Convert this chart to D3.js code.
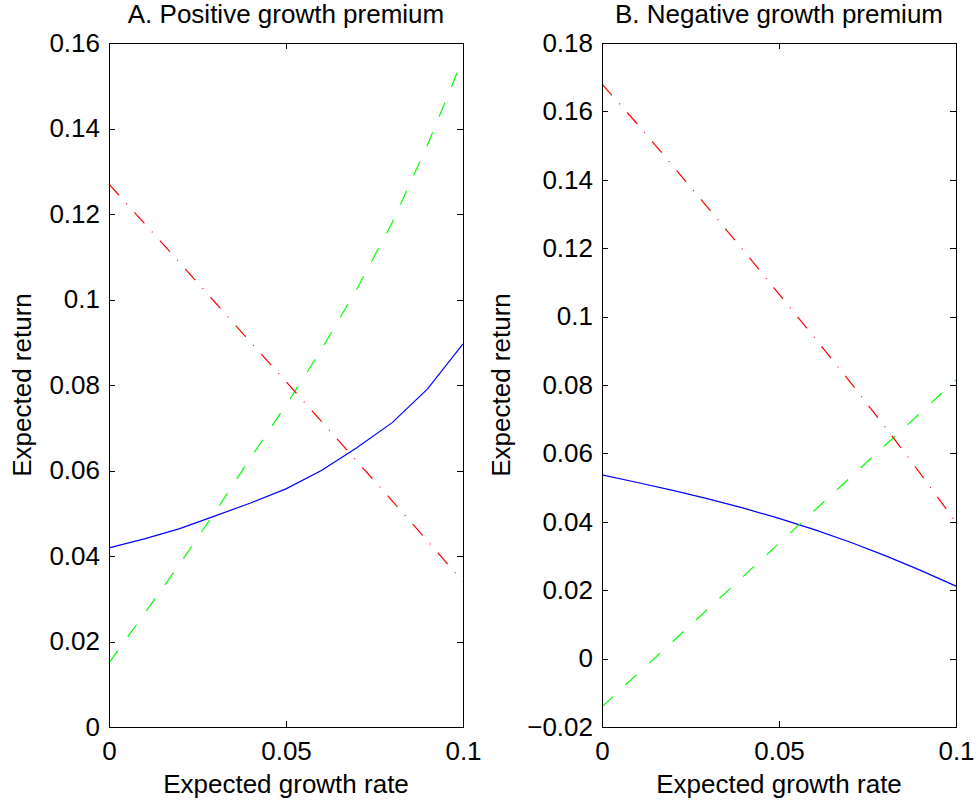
<!DOCTYPE html>
<html>
<head>
<meta charset="utf-8">
<script src="https://cdn.jsdelivr.net/npm/d3@7"></script>
<style>
  body { margin: 0; background: #fff; }
  svg { display: block; font-family: "Liberation Sans", Arial, sans-serif; }
</style>
</head>
<body>
<div id="chart"></div>
<script>
// expected growth rate (x) shared by both panels
const growth = [0, 0.01, 0.02, 0.03, 0.04, 0.05, 0.06, 0.07, 0.08, 0.09, 0.1];

// A. positive growth premium
const blueA  = [0.0419, 0.0440, 0.0464, 0.0494, 0.0524, 0.0557, 0.0600, 0.0653, 0.0712, 0.0791, 0.0896];
const greenA = [0.0150, 0.0265, 0.0382, 0.0503, 0.0630, 0.0753, 0.0883, 0.1024, 0.1180, 0.1362, 0.1564];
const redA   = [0.1270, 0.1178, 0.1086, 0.0993, 0.0900, 0.0808, 0.0715, 0.0622, 0.0529, 0.0435, 0.0340];

// B. negative growth premium
const blueB  = [0.0537, 0.0515, 0.0492, 0.0467, 0.0440, 0.0410, 0.0377, 0.0341, 0.0301, 0.0258, 0.0212];
const greenB = [-0.0141, -0.0045, 0.0050, 0.0146, 0.0241, 0.0337, 0.0433, 0.0528, 0.0624, 0.0719, 0.0815];
const redB   = [0.1680, 0.1563, 0.1441, 0.1317, 0.1193, 0.1066, 0.0939, 0.0810, 0.0677, 0.0540, 0.0398];

// tick values
const xTicks  = [0, 0.05, 0.1];
const yTicksA = [0, 0.02, 0.04, 0.06, 0.08, 0.1, 0.12, 0.14, 0.16];
const yTicksB = [-0.02, 0, 0.02, 0.04, 0.06, 0.08, 0.1, 0.12, 0.14, 0.16, 0.18];

const titles = ["A. Positive growth premium", "B. Negative growth premium"];
const xLabel = "Expected growth rate";
const yLabel = "Expected return";

let width = 976, height = 802;
let plotTop = 43, plotBottom = 727;
let fontSize = 26;

const panels = [
  {left: 109, right: 463, title: titles[0], yTicks: yTicksA, ylabelX: 31,
   series: [{v: blueA, c: "#0000ff", dash: null},
            {v: greenA, c: "#00ff00", dash: "15,17"},
            {v: redA, c: "#ff0000", dash: "15,11,1,11"}]},
  {left: 602, right: 956, title: titles[1], yTicks: yTicksB, ylabelX: 510,
   series: [{v: blueB, c: "#0000ff", dash: null},
            {v: greenB, c: "#00ff00", dash: "15,17"},
            {v: redB, c: "#ff0000", dash: "15,11,1,11"}]}
];

let svg = d3.select("#chart").append("svg")
    .attr("width", width)
    .attr("height", height);

const fmt = d3.format("~g");

const drawPanel = p => {
  let yExtent = d3.extent(p.yTicks);

  // set the ranges
  let x = d3.scaleLinear().domain([0, 0.1]).range([p.left, p.right]);
  let y = d3.scaleLinear().domain(yExtent).range([plotBottom, plotTop]);

  let g = svg.append("g");

  // lines
  p.series.forEach(s => {
    let line = d3.line()
      .x((d, i) => x(growth[i]))
      .y(d => y(d));
    g.append("path")
      .datum(s.v)
      .attr("fill", "none")
      .attr("stroke", s.c)
      .attr("stroke-width", 1.2)
      .attr("stroke-dasharray", s.dash)
      .attr("d", line);
  });

  // axes, ticks pointing inward, box on
  let bottomAxis = d3.axisBottom(x).tickValues(xTicks).tickFormat(fmt)
    .tickSizeInner(-6).tickSizeOuter(0).tickPadding(15);
  let topAxis = d3.axisTop(x).tickValues(xTicks).tickFormat("")
    .tickSizeInner(-6).tickSizeOuter(0);
  let leftAxis = d3.axisLeft(y).tickValues(p.yTicks).tickFormat(fmt)
    .tickSizeInner(-6).tickSizeOuter(0).tickPadding(9);
  let rightAxis = d3.axisRight(y).tickValues(p.yTicks).tickFormat("")
    .tickSizeInner(-6).tickSizeOuter(0);

  let axes = [
    g.append("g").attr("transform", "translate(0," + plotBottom + ")").call(bottomAxis),
    g.append("g").attr("transform", "translate(0," + plotTop + ")").call(topAxis),
    g.append("g").attr("transform", "translate(" + p.left + ",0)").call(leftAxis),
    g.append("g").attr("transform", "translate(" + p.right + ",0)").call(rightAxis)
  ];
  axes.forEach(a => {
    a.attr("font-size", fontSize).attr("font-family", null);
    a.selectAll("path, line").attr("stroke", "#000").attr("shape-rendering", "crispEdges");
    a.selectAll("text").attr("fill", "#000");
  });

  // title
  g.append("text")
    .attr("x", (p.left + p.right) / 2)
    .attr("y", 23)
    .attr("text-anchor", "middle")
    .attr("font-size", fontSize)
    .text(p.title);

  // x label
  g.append("text")
    .attr("x", (p.left + p.right) / 2)
    .attr("y", 793)
    .attr("text-anchor", "middle")
    .attr("font-size", fontSize)
    .text(xLabel);

  // y label
  g.append("text")
    .attr("transform", "translate(" + p.ylabelX + "," + (plotTop + plotBottom) / 2 + ") rotate(-90)")
    .attr("text-anchor", "middle")
    .attr("font-size", fontSize)
    .text(yLabel);
}

panels.forEach(drawPanel);
</script>
</body>
</html>
